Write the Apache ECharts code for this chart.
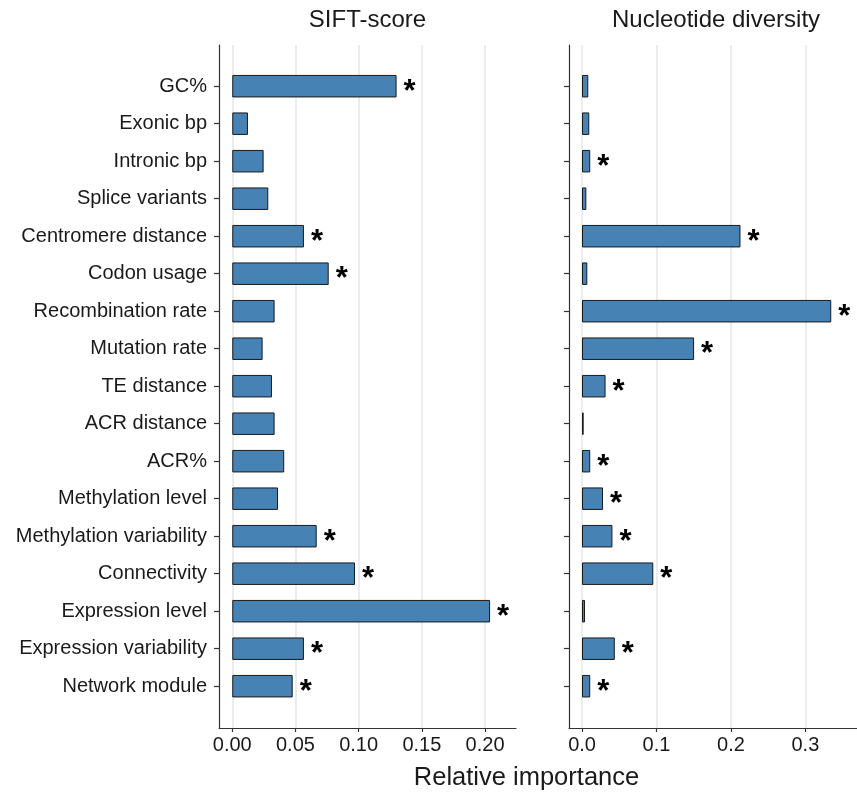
<!DOCTYPE html>
<html>
<head>
<meta charset="utf-8">
<script src="https://cdn.jsdelivr.net/npm/echarts@6/dist/echarts.min.js"></script>
<style>
  html, body { margin: 0; padding: 0; background: #ffffff; }
  #chart { width: 857px; height: 796px; }
</style>
</head>
<body>
<div id="chart"></div>
<script>
// Feature names, top to bottom
const features = [
  'GC%', 'Exonic bp', 'Intronic bp', 'Splice variants', 'Centromere distance',
  'Codon usage', 'Recombination rate', 'Mutation rate', 'TE distance',
  'ACR distance', 'ACR%', 'Methylation level', 'Methylation variability',
  'Connectivity', 'Expression level', 'Expression variability', 'Network module'
];

// Relative importance for SIFT-score
const siftImportance = [
  0.130, 0.0124, 0.0248, 0.0285, 0.0567,
  0.0763, 0.0335, 0.0240, 0.0314,
  0.0335, 0.0411, 0.0362, 0.0668,
  0.0971, 0.204, 0.0567, 0.0478
];
const siftSignificant = [
  true, false, false, false, true,
  true, false, false, false,
  false, false, false, true,
  true, true, true, true
];

// Relative importance for nucleotide diversity
const diversityImportance = [
  0.0084, 0.0097, 0.0110, 0.0058, 0.2128,
  0.0071, 0.3347, 0.1505, 0.0316,
  0.0022, 0.0110, 0.0282, 0.0408,
  0.0957, 0.0040, 0.0440, 0.0110
];
const diversitySignificant = [
  false, false, true, false, true,
  false, true, true, true,
  false, true, true, true,
  true, false, true, true
];

// Axis tick values
const siftTicks = [0, 0.05, 0.10, 0.15, 0.20];
const diversityTicks = [0, 0.1, 0.2, 0.3];

const FONT = '"Liberation Sans", Arial, Helvetica, sans-serif';
const TEXT = '#1a1a1a';
const AXIS = '#333333';
const GRIDLINE = '#e6e6e6';
const BAR = '#4682B4';

// Panel geometry: frame grid holds the axis lines, the bar grid holds the bands
const panels = [
  { left: 219, width: 297, min: -0.0105, max: 0.2245, ticks: siftTicks, digits: 2,
    values: siftImportance, sig: siftSignificant, labels: true },
  { left: 569, width: 294, min: -0.0175, max: 0.3693, ticks: diversityTicks, digits: 1,
    values: diversityImportance, sig: diversitySignificant, labels: false }
];
const frameTop = 45, frameHeight = 683;
const bandTop = 67.45, bandHeight = 637.5;

const grid = [], xAxis = [], yAxis = [], series = [];

panels.forEach((p, i) => {
  const frameIdx = i * 2, barIdx = i * 2 + 1;
  grid.push({ left: p.left, width: p.width, top: frameTop, height: frameHeight, containLabel: false });
  grid.push({ left: p.left, width: p.width, top: bandTop, height: bandHeight, containLabel: false });

  // Frame x axis: line, ticks, labels, vertical gridlines
  xAxis.push({
    type: 'value', gridIndex: frameIdx, min: p.min, max: p.max,
    axisLine: { show: true, onZero: false, lineStyle: { color: AXIS, width: 1.2 } },
    axisTick: { show: true, length: 4, customValues: p.ticks, lineStyle: { color: AXIS, width: 1.2 } },
    axisLabel: {
      show: true, customValues: p.ticks, margin: 7,
      fontFamily: FONT, fontSize: 20, color: TEXT,
      formatter: v => Number(v).toFixed(p.digits)
    },
    splitLine: { show: true, lineStyle: { color: GRIDLINE, width: 1.5 } }
  });
  // Frame y axis: just the vertical axis line
  yAxis.push({
    type: 'value', gridIndex: frameIdx, min: 0, max: 1,
    axisLine: { show: true, onZero: false, lineStyle: { color: AXIS, width: 1.2 } },
    axisTick: { show: false }, axisLabel: { show: false }, splitLine: { show: false }
  });

  // Bar grid axes
  xAxis.push({
    type: 'value', gridIndex: barIdx, min: p.min, max: p.max,
    axisLine: { show: false, onZero: false }, axisTick: { show: false },
    axisLabel: { show: false }, splitLine: { show: false }
  });
  yAxis.push({
    type: 'category', gridIndex: barIdx, data: features, inverse: true,
    axisLine: { show: false, onZero: false },
    axisTick: { show: true, alignWithLabel: true, length: 5, lineStyle: { color: AXIS, width: 1.2 } },
    axisLabel: {
      show: p.labels, margin: 12, fontFamily: FONT, fontSize: 20, color: TEXT
    },
    splitLine: { show: false }
  });

  series.push({
    type: 'bar', xAxisIndex: barIdx, yAxisIndex: barIdx,
    barWidth: '60%',
    itemStyle: { color: BAR, borderColor: '#1a1a1a', borderWidth: 1 },
    data: p.values.map((v, k) => ({
      value: v,
      label: {
        show: p.sig[k], position: 'right', distance: 7, formatter: '*',
        fontFamily: FONT, fontSize: 31, fontWeight: 'bold', color: '#000',
        offset: [0, 6]
      }
    })),
    animation: false
  });
});

const chart = echarts.init(document.getElementById('chart'), null, { renderer: 'canvas' });
chart.setOption({
  backgroundColor: '#ffffff',
  animation: false,
  grid, xAxis, yAxis, series,
  graphic: [
    { type: 'text', x: 367.5, y: 20, style: { text: 'SIFT-score', fontFamily: FONT, fontSize: 24, fill: TEXT, align: 'center', verticalAlign: 'middle' } },
    { type: 'text', x: 716, y: 20, style: { text: 'Nucleotide diversity', fontFamily: FONT, fontSize: 24, fill: TEXT, align: 'center', verticalAlign: 'middle' } },
    { type: 'text', x: 526.5, y: 778, style: { text: 'Relative importance', fontFamily: FONT, fontSize: 25.5, fill: TEXT, align: 'center', verticalAlign: 'middle' } }
  ]
});
</script>
</body>
</html>
